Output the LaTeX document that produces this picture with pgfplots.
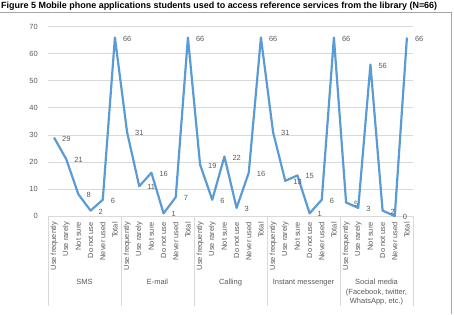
\documentclass[border=0pt]{standalone}
\usepackage{fontspec}
\setmainfont{Liberation Sans}
\usepackage{graphicx}
\usepackage{pgfplots}
\pgfplotsset{compat=1.18}
\definecolor{lineblue}{HTML}{5B9BD5}
\definecolor{txtgray}{HTML}{595959}
\definecolor{gridgray}{HTML}{D9D9D9}
\newcommand{\sfont}{\fontsize{7.5}{9.5}\selectfont}
\begin{document}
\begin{tikzpicture}[x=1bp,y=1bp]
\useasboundingbox (0,0) rectangle (454,-314);
\node[anchor=west, inner sep=0] at (1,-6.5) {\resizebox{436bp}{!}{\bfseries Figure 5 Mobile phone applications students used to access reference services from the library (N=66)}};
\draw[gray!70, line width=0.8] (0,-12) -- (451,-12) -- (451,-314);
\begin{axis}[
  at={(48bp,-216bp)}, anchor=south west, scale only axis,
  width=365bp, height=189.3bp,
  xmin=-0.5, xmax=29.5, ymin=0, ymax=70,
  ytick={0,10,...,70},
  ymajorgrids, grid style={gridgray, line width=0.75bp},
  axis line style={draw=none},
  major tick length=0pt,
  clip=false,
  /pgf/number format/assume math mode=true,
  xtick={0,...,29},
  xticklabels={Use frequently, Use rarely, Not sure, Do not use, Never used, Total,
               Use frequently, Use rarely, Not sure, Do not use, Never used, Total,
               Use frequently, Use rarely, Not sure, Do not use, Never used, Total,
               Use frequently, Use rarely, Not sure, Do not use, Never used, Total,
               Use frequently, Use rarely, Not sure, Do not use, Never used, Total},
  xticklabel style={rotate=90, anchor=east, inner sep=0pt, font=\sfont, text=txtgray},
  xticklabel shift=6bp,
  yticklabel style={inner sep=0pt, font=\sfont, text=txtgray},
  yticklabel shift=10bp,
]
\addplot[lineblue, line width=2.2bp, line join=round, no marks,
  nodes near coords,
  every node near coord/.append style={anchor=west, inner sep=0pt, xshift=7bp, yshift=-1bp, font=\sfont, text=txtgray}]
coordinates {
(0,29) (1,21) (2,8) (3,2) (4,6) (5,66)
(6,31) (7,11) (8,16) (9,1) (10,7) (11,66)
(12,19) (13,6) (14,22) (15,3) (16,16) (17,66)
(18,31) (19,13) (20,15) (21,1) (22,6) (23,66)
(24,5) (25,3) (26,56) (27,2) (28,0) (29,66)
};
\end{axis}
\foreach \x in {48,121,194,267,340,413} \draw[gridgray, line width=0.75] (\x,-216) -- (\x,-306);
\begin{scope}[every node/.style={anchor=north, inner sep=0pt, font=\sfont, text=txtgray, align=center}]
\node at (84.5,-279) {SMS};
\node at (157.5,-279) {E-mail};
\node at (230.5,-279) {Calling};
\node at (303.5,-279) {Instant messenger};
\node at (376.5,-279) {Social media\\(Facebook, twitter,\\WhatsApp, etc.)};
\end{scope}
\end{tikzpicture}
\end{document}
